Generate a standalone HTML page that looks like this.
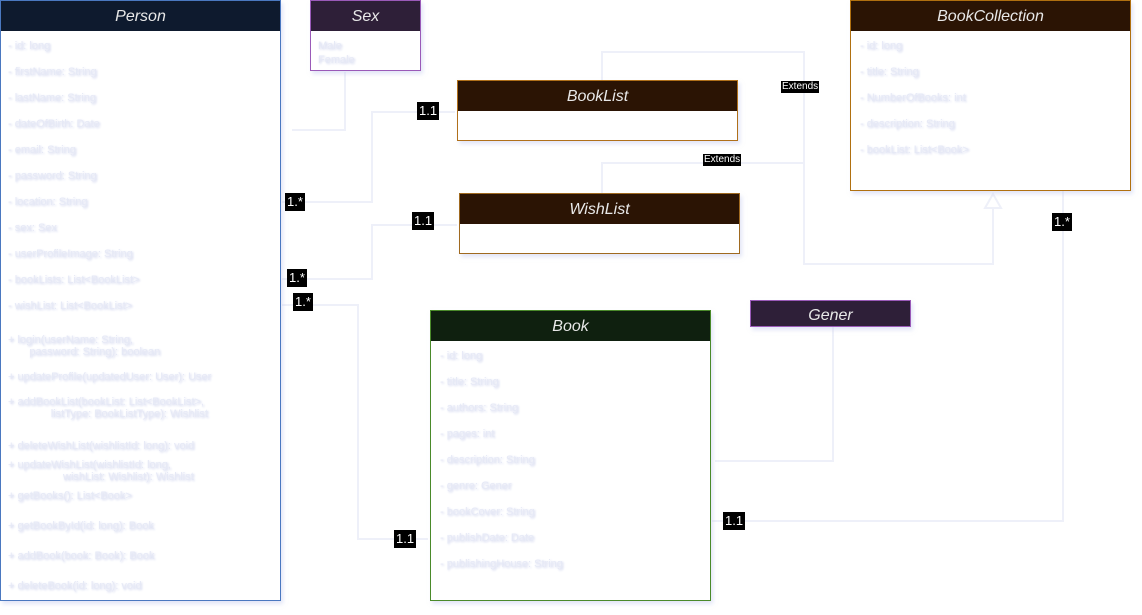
<!DOCTYPE html>
<html><head><meta charset="utf-8"><style>
html,body{margin:0;padding:0;background:#fff;width:1142px;height:615px;overflow:hidden;font-family:"Liberation Sans",sans-serif;}
.box{position:absolute;box-sizing:border-box;background:#fff;box-shadow:2px 3px 4px rgba(200,205,240,0.5);}
.hd{color:#e8e8e8;font-style:italic;font-size:16px;text-align:center;box-sizing:border-box;padding-top:2px;}
.t{position:absolute;color:#e6e9f6;font-size:11px;text-shadow:1px 1px 2px #c8cdea;white-space:pre;}
.lbl{position:absolute;background:#000;color:#fff;font-size:13px;padding:2px 2px;line-height:14px;}
.lbs{position:absolute;background:#000;color:#fff;font-size:10px;padding:0 1px;line-height:12px;}
</style></head><body>
<svg width="1142" height="615" style="position:absolute;left:0;top:0" fill="none" stroke="#eef0f9" stroke-width="2">
<polyline points="345,72 345,130 292,130"/>
<polyline points="282,202 372,202 372,112 455,112"/>
<polyline points="282,279 372,279 372,225 457,225"/>
<polyline points="282,305 358,305 358,539 428,539"/>
<polyline points="602,80 602,52 804,52 804,264 993,264 993,208"/>
<polygon points="993,194 985,208 1001,208"/>
<polyline points="602,193 602,163 804,163"/>
<polyline points="833,327 833,461 715,461"/>
<polyline points="712,521 1063,521 1063,190"/>
<line x1="1" y1="323" x2="280" y2="323"/>
<line x1="430" y1="578" x2="710" y2="578"/>
<line x1="850" y1="167" x2="1130" y2="167"/>
<line x1="457" y1="120" x2="737" y2="120"/>
<line x1="459" y1="233" x2="739" y2="233"/>
</svg>

<div class="box" style="left:0;top:0;width:281px;height:601px;border:1px solid #4a78c0;">
<div class="hd" style="background:#0e1a2e;height:30px;line-height:28px;">Person</div></div>
<div class="t" style="left:8px;top:40px">- id: long</div>
<div class="t" style="left:8px;top:66px">- firstName: String</div>
<div class="t" style="left:8px;top:92px">- lastName: String</div>
<div class="t" style="left:8px;top:118px">- dateOfBirth: Date</div>
<div class="t" style="left:8px;top:144px">- email: String</div>
<div class="t" style="left:8px;top:170px">- password: String</div>
<div class="t" style="left:8px;top:196px">- location: String</div>
<div class="t" style="left:8px;top:222px">- sex: Sex</div>
<div class="t" style="left:8px;top:248px">- userProfileImage: String</div>
<div class="t" style="left:8px;top:274px">- bookLists: List&lt;BookList&gt;</div>
<div class="t" style="left:8px;top:300px">- wishList: List&lt;BookList&gt;</div>
<div class="t" style="left:8px;top:334px">+ login(userName: String,
       password: String): boolean</div>
<div class="t" style="left:8px;top:371px">+ updateProfile(updatedUser: User): User</div>
<div class="t" style="left:8px;top:396px">+ addBookList(bookList: List&lt;BookList&gt;,
              listType: BookListType): Wishlist</div>
<div class="t" style="left:8px;top:440px">+ deleteWishList(wishlistId: long): void</div>
<div class="t" style="left:8px;top:459px">+ updateWishList(wishlistId: long,
                  wishList: Wishlist): Wishlist</div>
<div class="t" style="left:8px;top:490px">+ getBooks(): List&lt;Book&gt;</div>
<div class="t" style="left:8px;top:520px">+ getBookById(id: long): Book</div>
<div class="t" style="left:8px;top:550px">+ addBook(book: Book): Book</div>
<div class="t" style="left:8px;top:580px">+ deleteBook(id: long): void</div>

<div class="box" style="left:310px;top:0;width:111px;height:71px;border:1px solid #9a5ab8;">
<div class="hd" style="background:#2e1f38;height:30px;line-height:28px;">Sex</div></div>
<div class="t" style="left:318px;top:40px">Male</div>
<div class="t" style="left:318px;top:54px">Female</div>

<div class="box" style="left:457px;top:80px;width:281px;height:61px;border:1px solid #b0701a;">
<div class="hd" style="background:#2b1404;height:30px;line-height:28px;">BookList</div></div>

<div class="box" style="left:459px;top:193px;width:281px;height:61px;border:1px solid #a06a20;">
<div class="hd" style="background:#2b1404;height:30px;line-height:28px;">WishList</div></div>

<div class="box" style="left:850px;top:0;width:281px;height:191px;border:1px solid #b07010;">
<div class="hd" style="background:#2b1404;height:30px;line-height:28px;">BookCollection</div></div>
<div class="t" style="left:860px;top:40px">- id: long</div>
<div class="t" style="left:860px;top:66px">- title: String</div>
<div class="t" style="left:860px;top:92px">- NumberOfBooks: int</div>
<div class="t" style="left:860px;top:118px">- description: String</div>
<div class="t" style="left:860px;top:144px">- bookList: List&lt;Book&gt;</div>

<div class="box" style="left:430px;top:310px;width:281px;height:291px;border:1px solid #4a8a2a;">
<div class="hd" style="background:#0f200f;height:30px;line-height:28px;">Book</div></div>
<div class="t" style="left:440px;top:350px">- id: long</div>
<div class="t" style="left:440px;top:376px">- title: String</div>
<div class="t" style="left:440px;top:402px">- authors: String</div>
<div class="t" style="left:440px;top:428px">- pages: int</div>
<div class="t" style="left:440px;top:454px">- description: String</div>
<div class="t" style="left:440px;top:480px">- genre: Gener</div>
<div class="t" style="left:440px;top:506px">- bookCover: String</div>
<div class="t" style="left:440px;top:532px">- publishDate: Date</div>
<div class="t" style="left:440px;top:558px">- publishingHouse: String</div>

<div class="box" style="left:750px;top:300px;width:161px;height:27px;border:1px solid #9a5ab8;">
<div class="hd" style="background:#2e1f38;height:25px;line-height:25px;padding-top:2px;">Gener</div></div>

<div class="lbl" style="left:417px;top:102px">1.1</div>
<div class="lbl" style="left:285px;top:193px">1.*</div>
<div class="lbl" style="left:412px;top:212px">1.1</div>
<div class="lbl" style="left:287px;top:269px">1.*</div>
<div class="lbl" style="left:293px;top:293px">1.*</div>
<div class="lbl" style="left:394px;top:530px">1.1</div>
<div class="lbl" style="left:723px;top:512px">1.1</div>
<div class="lbl" style="left:1052px;top:213px">1.*</div>
<div class="lbs" style="left:781px;top:81px">Extends</div>
<div class="lbs" style="left:703px;top:154px">Extends</div>
</body></html>
